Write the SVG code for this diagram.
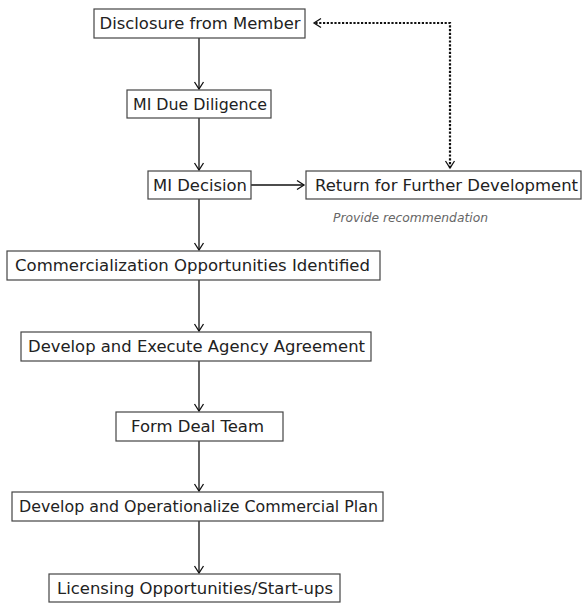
<svg xmlns="http://www.w3.org/2000/svg" width="583" height="603" viewBox="0 0 583 603">
<style>
.box{fill:#fff;stroke:#444;stroke-width:1.2}
.t{font-family:"DejaVu Sans",sans-serif;font-size:15px;fill:#222;text-anchor:middle}
.c{fill:none;stroke:#111;stroke-width:1.3}
.d{fill:none;stroke:#111;stroke-width:2.2;stroke-dasharray:2.2 1.6}
.note{font-family:"DejaVu Sans",sans-serif;font-size:11.5px;font-style:italic;fill:#666}
</style>
<defs>
<marker id="ah" markerWidth="10" markerHeight="10" refX="8" refY="5" orient="auto-start-reverse" markerUnits="userSpaceOnUse" overflow="visible">
<path d="M1,0.5 L8,5 L1,9.5" fill="none" stroke="#111" stroke-width="1.3"/>
</marker>
</defs>
<rect width="583" height="603" fill="#fff"/>
<g id="connectors">
<line class="c" x1="199" y1="38" x2="199" y2="89" marker-end="url(#ah)"/>
<line class="c" x1="199" y1="118" x2="199" y2="170" marker-end="url(#ah)"/>
<line class="c" x1="251" y1="185" x2="304" y2="185" marker-end="url(#ah)"/>
<line class="c" x1="199" y1="199" x2="199" y2="250" marker-end="url(#ah)"/>
<line class="c" x1="199" y1="280" x2="199" y2="331" marker-end="url(#ah)"/>
<line class="c" x1="199" y1="361" x2="199" y2="411" marker-end="url(#ah)"/>
<line class="c" x1="199" y1="441" x2="199" y2="491" marker-end="url(#ah)"/>
<line class="c" x1="199" y1="521" x2="199" y2="573" marker-end="url(#ah)"/>
<polyline class="d" points="450,168 450,23 314,23" marker-start="url(#ah)" marker-end="url(#ah)"/>
</g>
<g id="n1"><rect class="box" x="94" y="9" width="211" height="29"/><text class="t" x="200" y="29" textLength="201" lengthAdjust="spacingAndGlyphs">Disclosure from Member</text></g>
<g id="n2"><rect class="box" x="127" y="90" width="144" height="28"/><text class="t" x="200" y="109.5" textLength="134" lengthAdjust="spacingAndGlyphs">MI Due Diligence</text></g>
<g id="n3"><rect class="box" x="148" y="171" width="103" height="28"/><text class="t" x="200" y="190.5" textLength="94" lengthAdjust="spacingAndGlyphs">MI Decision</text></g>
<g id="n4"><rect class="box" x="306" y="171" width="275" height="28"/><text class="t" x="446.5" y="190.5" textLength="263" lengthAdjust="spacingAndGlyphs">Return for Further Development</text></g>
<g id="note"><text class="note" x="333" y="222" textLength="155" lengthAdjust="spacingAndGlyphs">Provide recommendation</text></g>
<g id="n5"><rect class="box" x="7" y="251" width="373" height="29"/><text class="t" x="192.5" y="270.5" textLength="355" lengthAdjust="spacingAndGlyphs">Commercialization Opportunities Identified</text></g>
<g id="n6"><rect class="box" x="21" y="332" width="350" height="29"/><text class="t" x="196.5" y="351.5" textLength="337" lengthAdjust="spacingAndGlyphs">Develop and Execute Agency Agreement</text></g>
<g id="n7"><rect class="box" x="116" y="412" width="167" height="29"/><text class="t" x="197.5" y="431.5" textLength="133" lengthAdjust="spacingAndGlyphs">Form Deal Team</text></g>
<g id="n8"><rect class="box" x="12" y="492" width="371" height="29"/><text class="t" x="198.5" y="511.5" textLength="359" lengthAdjust="spacingAndGlyphs">Develop and Operationalize Commercial Plan</text></g>
<g id="n9"><rect class="box" x="49" y="574" width="291" height="28"/><text class="t" x="195" y="593.5" textLength="276" lengthAdjust="spacingAndGlyphs">Licensing Opportunities/Start-ups</text></g>
</svg>
